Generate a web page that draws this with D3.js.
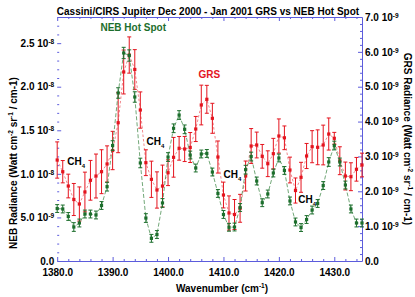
<!DOCTYPE html>
<html>
<head>
<meta charset="utf-8">
<script src="https://cdn.jsdelivr.net/npm/d3@7"></script>
<style>
body { margin: 0; background: #fff; }
text { font-family: "Liberation Sans", Arial, sans-serif; font-weight: bold; }
</style>
</head>
<body>
<script>
// Global variable
const w = 415;
const h = 297;

// Wavenumber of each spectral point (cm-1)
const wavenumber = [1380, 1381, 1382, 1383, 1384, 1385, 1386, 1387, 1388, 1389,
                    1390, 1391, 1392, 1393, 1394, 1395, 1396, 1397, 1398, 1399,
                    1400, 1401, 1402, 1403, 1404, 1405, 1406, 1407, 1408, 1409,
                    1410, 1411, 1412, 1413, 1414, 1415, 1416, 1417, 1418, 1419,
                    1420, 1421, 1422, 1423, 1424, 1425, 1426, 1427, 1428, 1429,
                    1430, 1431, 1432, 1433, 1434, 1435];

// NEB Hot Spot radiance, in units of 1e-8 W cm-2 sr-1 / cm-1
const nebRadiance = [0.602, 0.597, 0.511, 0.390, 0.436, 0.539, 0.539, 0.528, 0.637, 0.853,
                     1.325, 1.928, 2.387, 2.358, 1.882, 1.125, 0.493, 0.260, 0.304, 0.666,
                     1.193, 1.523, 1.675, 1.511, 1.216, 1.067, 1.228, 1.234, 1.021, 0.775,
                     0.534, 0.387, 0.390, 0.614, 1.048, 1.199, 0.918, 0.669, 0.769, 1.010,
                     1.182, 1.039, 0.689, 0.448, 0.384, 0.476, 0.585, 0.660, 0.866, 1.136,
                     1.325, 1.136, 0.872, 0.597, 0.436, 0.436];
const nebError = [0.045, 0.045, 0.045, 0.050, 0.045, 0.045, 0.045, 0.045, 0.045, 0.050,
                  0.055, 0.060, 0.065, 0.065, 0.060, 0.055, 0.050, 0.045, 0.045, 0.050,
                  0.050, 0.050, 0.050, 0.050, 0.045, 0.045, 0.045, 0.045, 0.045, 0.045,
                  0.045, 0.045, 0.045, 0.045, 0.050, 0.050, 0.045, 0.045, 0.045, 0.045,
                  0.045, 0.045, 0.045, 0.045, 0.045, 0.045, 0.045, 0.045, 0.045, 0.050,
                  0.050, 0.045, 0.045, 0.045, 0.045, 0.045];

// GRS radiance, in units of 1e-9 W cm-2 sr-1 / cm-1
const grsRadiance = [2.897, 2.562, 2.151, 1.764, 1.635, 1.979, 2.315, 2.438, 2.562, 2.783,
                     3.170, 3.967, 5.422, 5.909, 5.494, 4.331, 2.820, 2.344, 2.037, 2.151,
                     2.533, 2.975, 3.233, 3.213, 3.256, 3.787, 4.475, 4.639, 4.094, 2.983,
                     1.893, 1.377, 1.334, 1.512, 2.438, 3.299, 3.328, 3.003, 2.791, 3.078,
                     3.586, 3.534, 2.610, 2.022, 2.401, 3.012, 3.279, 3.262, 3.328, 3.643,
                     3.520, 2.877, 2.438, 2.418, 2.631, 2.754];
const grsError = [0.52, 0.32, 0.34, 0.46, 0.49, 0.57, 0.57, 0.63, 0.63, 0.52,
                  0.55, 0.86, 0.63, 0.52, 0.57, 0.52, 0.37, 0.52, 0.52, 0.60,
                  0.37, 0.57, 0.34, 0.36, 0.43, 0.36, 0.57, 0.40, 0.43, 0.46,
                  0.37, 0.49, 0.43, 0.40, 0.43, 0.50, 0.37, 0.34, 0.37, 0.44,
                  0.49, 0.34, 0.37, 0.36, 0.43, 0.36, 0.46, 0.50, 0.57, 0.46,
                  0.17, 0.40, 0.40, 0.40, 0.34, 0.34];

// Tick labels
const xTicks = [1380, 1390, 1400, 1410, 1420, 1430];
const xTickLabels = ["1380.0", "1390.0", "1400.0", "1410.0", "1420.0", "1430.0"];
const leftTicks = [0, 0.5e-8, 1.0e-8, 1.5e-8, 2.0e-8, 2.5e-8];
const leftTickMant = ["0.0", "5.0", "1.0", "1.5", "2.0", "2.5"];
const leftTickExp = ["", "-9", "-8", "-8", "-8", "-8"];
const rightTicks = [0, 1e-9, 2e-9, 3e-9, 4e-9, 5e-9, 6e-9, 7e-9];
const rightTickMant = ["0.0", "1.0", "2.0", "3.0", "4.0", "5.0", "6.0", "7.0"];
const rightTickExp = ["", "-9", "-9", "-9", "-9", "-9", "-9", "-9"];

// CH4 band annotations [wavenumber, NEB radiance]
const ch4Labels = [[1381.8, 1.10e-8], [1396.1, 1.33e-8], [1410.0, 0.95e-8], [1423.5, 0.67e-8]];

const axisColor = "#5c5cdc";
const red = "#e4141e";
const green = "#1c6e2c";

const nebData = wavenumber.map((wn, i) => ({wn: wn, v: nebRadiance[i] * 1e-8, e: nebError[i] * 1e-8}));
const grsData = wavenumber.map((wn, i) => ({wn: wn, v: grsRadiance[i] * 1e-9, e: grsError[i] * 1e-9}));

//Create SVG element
let svg = d3.select("body")
            .append("svg")
                .attr("width", w)
                .attr("height", h);

const x = d3.scaleLinear().domain([1380, 1435]).range([57.2, 362]);
const yNeb = d3.scaleLinear().domain([0, 2.8e-8]).range([261, 17]);
const yGrs = d3.scaleLinear().domain([0, 7e-9]).range([261, 17]);

// superscript tick labels like "2.5 10^-8"
function sciLabels(sel, mant, exp) {
    sel.selectAll(".tick text").each(function(d, i) {
        const t = d3.select(this);
        t.text(mant[i] + (exp[i] ? " 10" : ""));
        if (exp[i]) {
            t.append("tspan").attr("dy", "-0.45em").attr("font-size", "6.5px").text(exp[i]);
        }
    });
}

function styleAxis(g) {
    g.selectAll("path, line").attr("stroke", axisColor);
    g.selectAll("text").attr("fill", "#000").attr("font-size", "10px")
        .attr("font-family", null);
}

const xMinor = d3.range(1380, 1436, 2).filter(v => xTicks.indexOf(v) < 0);

// bottom axis
svg.append("g")
    .attr("transform", "translate(0,261)")
    .call(d3.axisBottom(x).tickValues(xTicks).tickSize(-4).tickSizeOuter(0).tickPadding(8)
        .tickFormat((d, i) => xTickLabels[i]))
    .call(styleAxis);
svg.append("g")
    .attr("transform", "translate(0,261)")
    .call(d3.axisBottom(x).tickValues(xMinor).tickSize(-2).tickFormat(""))
    .call(g => g.select(".domain").remove())
    .call(styleAxis);

// top axis
svg.append("g")
    .attr("transform", "translate(0,17)")
    .call(d3.axisTop(x).tickValues(xTicks).tickSize(-4).tickSizeOuter(0).tickFormat(""))
    .call(styleAxis);
svg.append("g")
    .attr("transform", "translate(0,17)")
    .call(d3.axisTop(x).tickValues(xMinor).tickSize(-2).tickFormat(""))
    .call(g => g.select(".domain").remove())
    .call(styleAxis);

// left axis (no axis line)
svg.append("g")
    .attr("transform", "translate(57.2,0)")
    .call(d3.axisLeft(yNeb).tickValues(leftTicks).tickSize(-4).tickPadding(3))
    .call(g => g.select(".domain").remove())
    .call(styleAxis)
    .call(g => sciLabels(g, leftTickMant, leftTickExp));
svg.append("g")
    .attr("transform", "translate(57.2,0)")
    .call(d3.axisLeft(yNeb).tickValues(d3.range(1, 28).map(k => k * 1e-9).filter((v, k) => (k + 1) % 5 != 0))
        .tickSize(-2).tickFormat(""))
    .call(g => g.select(".domain").remove())
    .call(styleAxis);

// right axis
svg.append("g")
    .attr("transform", "translate(362,0)")
    .call(d3.axisRight(yGrs).tickValues(rightTicks).tickSize(-4).tickSizeOuter(0).tickPadding(3))
    .call(styleAxis)
    .call(g => sciLabels(g, rightTickMant, rightTickExp));
svg.append("g")
    .attr("transform", "translate(362,0)")
    .call(d3.axisRight(yGrs).tickValues(d3.range(1, 35).map(k => k * 2e-10).filter((v, k) => (k + 1) % 5 != 0))
        .tickSize(-2).tickFormat(""))
    .call(g => g.select(".domain").remove())
    .call(styleAxis);

// draw one series: dashed line, error bars, square markers
function drawSeries(data, y, color, lineColor, dash) {
    const g = svg.append("g");
    g.append("path")
        .datum(data)
        .attr("fill", "none")
        .attr("stroke", lineColor)
        .attr("stroke-width", 0.8)
        .attr("stroke-dasharray", dash)
        .attr("d", d3.line().x(d => x(d.wn)).y(d => y(d.v)));

    const bars = g.selectAll(".bar")
        .data(data)
        .enter()
        .append("g")
        .attr("stroke", color)
        .attr("stroke-width", 1);
    bars.append("line")
        .attr("x1", d => x(d.wn)).attr("x2", d => x(d.wn))
        .attr("y1", d => y(d.v - d.e)).attr("y2", d => y(d.v + d.e));
    bars.append("line")
        .attr("x1", d => x(d.wn) - 2).attr("x2", d => x(d.wn) + 2)
        .attr("y1", d => y(d.v - d.e)).attr("y2", d => y(d.v - d.e));
    bars.append("line")
        .attr("x1", d => x(d.wn) - 2).attr("x2", d => x(d.wn) + 2)
        .attr("y1", d => y(d.v + d.e)).attr("y2", d => y(d.v + d.e));

    g.selectAll("rect")
        .data(data)
        .enter()
        .append("rect")
        .attr("fill", color)
        .attr("x", d => x(d.wn) - 1.6)
        .attr("y", d => y(d.v) - 1.6)
        .attr("width", 3.2)
        .attr("height", 3.2);
}

drawSeries(grsData, yGrs, red, "#ee6a70", "2.5,2");
drawSeries(nebData, yNeb, green, "#4f9257", "4,2");

// title and labels
svg.append("text")
    .attr("x", 208).attr("y", 15)
    .attr("text-anchor", "middle")
    .attr("font-size", "10px")
    .text("Cassini/CIRS Jupiter Dec 2000 - Jan 2001 GRS vs NEB Hot Spot");

svg.append("text")
    .attr("x", x(1387.8)).attr("y", yNeb(2.645e-8))
    .attr("font-size", "10px")
    .attr("fill", green)
    .text("NEB Hot Spot");

svg.append("text")
    .attr("x", x(1405.5)).attr("y", yGrs(5.25e-9))
    .attr("font-size", "10px")
    .attr("fill", red)
    .text("GRS");

ch4Labels.forEach(c => {
    const t = svg.append("text")
        .attr("x", x(c[0])).attr("y", yNeb(c[1]))
        .attr("font-size", "10px")
        .text("CH");
    t.append("tspan").attr("dy", 3).attr("font-size", "6px").text("4");
});

// x axis title
const xt = svg.append("text")
    .attr("x", 222).attr("y", 292)
    .attr("text-anchor", "middle")
    .attr("font-size", "10px")
    .text("Wavenumber (cm");
xt.append("tspan").attr("dy", -4).attr("font-size", "6.5px").text("-1");
xt.append("tspan").attr("dy", 4).text(")");

// y axis titles
function yTitle(name, tx, ty, rot) {
    const t = svg.append("text")
        .attr("transform", "translate(" + tx + "," + ty + ") rotate(" + rot + ")")
        .attr("text-anchor", "middle")
        .attr("font-size", "10px")
        .text(name + " Radiance (Watt cm");
    t.append("tspan").attr("dy", -4).attr("font-size", "6.5px").text("-2");
    t.append("tspan").attr("dy", 4).text(" sr");
    t.append("tspan").attr("dy", -4).attr("font-size", "6.5px").text("-1");
    t.append("tspan").attr("dy", 4).text(" / cm-1)");
}
yTitle("NEB", 17, 163, -90);
yTitle("GRS", 403.5, 139, 90);
</script>
</body>
</html>
